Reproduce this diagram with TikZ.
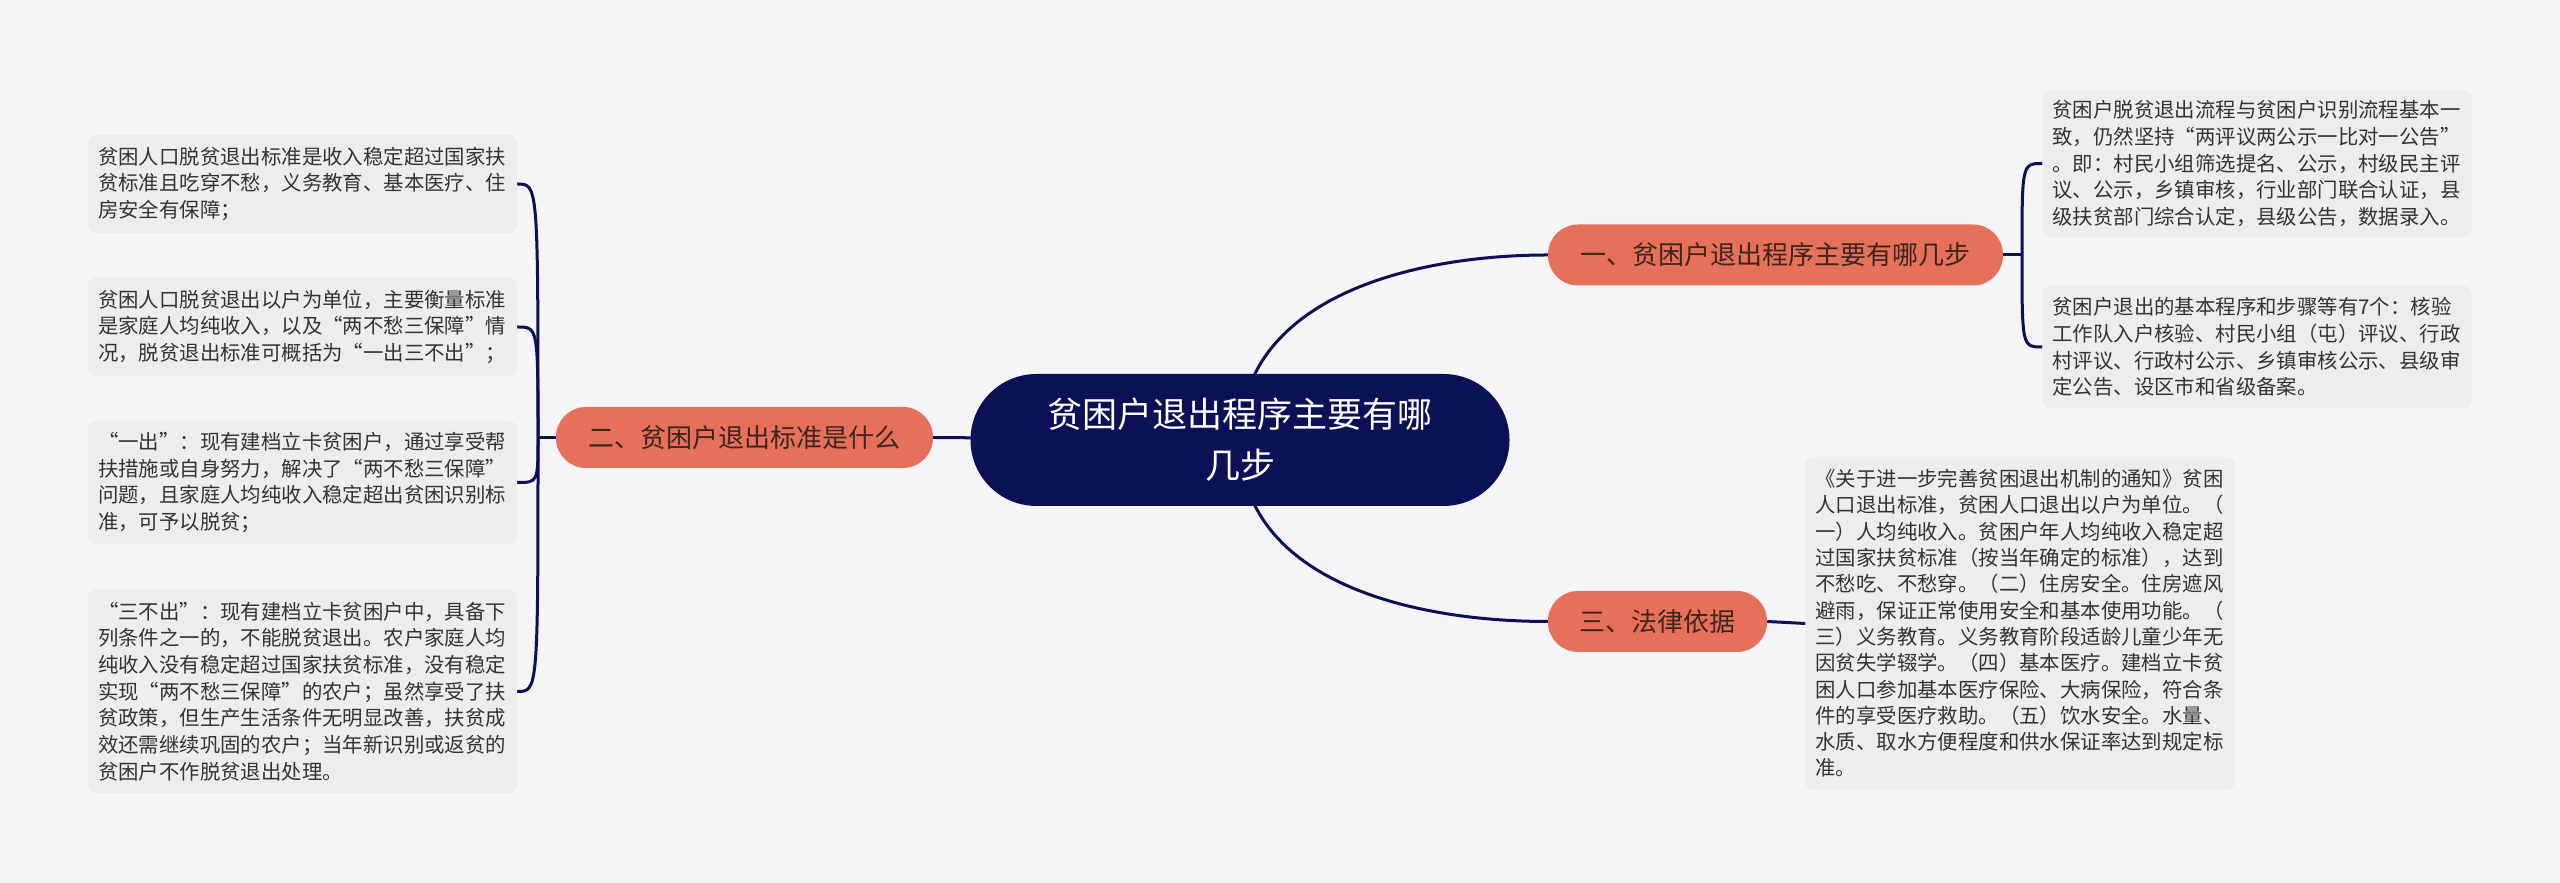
\documentclass[tikz,border=0pt]{standalone}
\usepackage{fontspec}
\newfontfamily\cjk{Noto Sans CJK SC}
\usetikzlibrary{backgrounds}
\definecolor{navy}{HTML}{0B1157}
\definecolor{coral}{HTML}{E6705A}
\definecolor{bgcol}{HTML}{F5F5F7}
\definecolor{leafcol}{HTML}{EDEDEF}
\definecolor{leaftxt}{HTML}{333333}
\definecolor{brtxt}{HTML}{3D2520}
\tikzset{
    root/.style={fill=navy, text=white, rounded corners=66pt, minimum width=539pt, minimum height=132pt, align=center, font=\cjk\fontsize{35}{51}\selectfont},
    branch/.style={fill=coral, text=brtxt, rounded corners=30pt, minimum height=61pt, font=\cjk\fontsize{26}{32}\selectfont},
    leaf/.style={fill=leafcol, text=leaftxt, rounded corners=8pt, text width=409pt, inner xsep=10pt, align=left, font=\cjk\fontsize{20.4}{26.7}\selectfont},
    link/.style={draw=navy, line width=3pt},
}
\begin{document}
\begin{tikzpicture}[x=1pt, y=1pt]
    \useasboundingbox (0,0) rectangle (2560,883);

    % Nodes (Topic and branches)
    \node[root] (root) at (1240, 443) {贫困户退出程序主要有哪\\几步};
    \node[branch, minimum width=455pt] (b1) at (1775.5, 628) {一、贫困户退出程序主要有哪几步};
    \node[branch, minimum width=377pt] (b2) at (744.5, 445.5) {二、贫困户退出标准是什么};
    \node[branch, minimum width=219pt] (b3) at (1657.5, 261.5) {三、法律依据};

    % Nodes (Left leaves)
    \node[leaf, minimum height=98pt] (l1) at (302.5, 699) {贫困人口脱贫退出标准是收入稳定超过国家扶\\贫标准且吃穿不愁，义务教育、基本医疗、住\\房安全有保障；};
    \node[leaf, minimum height=98pt] (l2) at (302.5, 556) {贫困人口脱贫退出以户为单位，主要衡量标准\\是家庭人均纯收入，以及“两不愁三保障”情\\况，脱贫退出标准可概括为“一出三不出”；};
    \node[leaf, minimum height=123pt] (l3) at (302.5, 400.5) {“一出”：现有建档立卡贫困户，通过享受帮\\扶措施或自身努力，解决了“两不愁三保障”\\问题，且家庭人均纯收入稳定超出贫困识别标\\准，可予以脱贫；};
    \node[leaf, minimum height=203pt] (l4) at (302.5, 191.5) {“三不出”：现有建档立卡贫困户中，具备下\\列条件之一的，不能脱贫退出。农户家庭人均\\纯收入没有稳定超过国家扶贫标准，没有稳定\\实现“两不愁三保障”的农户；虽然享受了扶\\贫政策，但生产生活条件无明显改善，扶贫成\\效还需继续巩固的农户；当年新识别或返贫的\\贫困户不作脱贫退出处理。};

    % Nodes (Right leaves)
    \node[leaf, minimum height=147pt] (r1) at (2257, 719.5) {贫困户脱贫退出流程与贫困户识别流程基本一\\致，仍然坚持“两评议两公示一比对一公告”\\。即：村民小组筛选提名、公示，村级民主评\\议、公示，乡镇审核，行业部门联合认证，县\\级扶贫部门综合认定，县级公告，数据录入。};
    \node[leaf, minimum height=122pt] (r2) at (2257, 536) {贫困户退出的基本程序和步骤等有7个：核验\\工作队入户核验、村民小组（屯）评议、行政\\村评议、行政村公示、乡镇审核公示、县级审\\定公告、设区市和省级备案。};
    \node[leaf, minimum height=333pt, font=\cjk\fontsize{20.4}{26.3}\selectfont] (r3) at (2020, 259.5) {《关于进一步完善贫困退出机制的通知》贫困\\人口退出标准，贫困人口退出以户为单位。（\\一）人均纯收入。贫困户年人均纯收入稳定超\\过国家扶贫标准（按当年确定的标准），达到\\不愁吃、不愁穿。（二）住房安全。住房遮风\\避雨，保证正常使用安全和基本使用功能。（\\三）义务教育。义务教育阶段适龄儿童少年无\\因贫失学辍学。（四）基本医疗。建档立卡贫\\困人口参加基本医疗保险、大病保险，符合条\\件的享受医疗救助。（五）饮水安全。水量、\\水质、取水方便程度和供水保证率达到规定标\\准。};

    % Junctions
    \coordinate (j1) at (2022, 628);
    \coordinate (j2) at (538, 445.5);

    \begin{scope}[on background layer]
        \fill[bgcol] (0,0) rectangle (2560,883);

        % Edges (Topic to branches)
        \draw[link] (root.center) to[out=90, in=180] (b1.west);
        \draw[link] (root.center) -- (b2.east);
        \draw[link] (root.center) to[out=-90, in=180] (b3.west);

        % Edges (Branches to leaves)
        \draw[link] (b2.west) -- (j2);
        \draw[link] (j2) .. controls (j2 |- l1.east) .. (l1.east);
        \draw[link] (j2) .. controls (j2 |- l2.east) .. (l2.east);
        \draw[link] (j2) .. controls (j2 |- l3.east) .. (l3.east);
        \draw[link] (j2) .. controls (j2 |- l4.east) .. (l4.east);
        \draw[link] (b1.east) -- (j1);
        \draw[link] (j1) .. controls (j1 |- r1.west) .. (r1.west);
        \draw[link] (j1) .. controls (j1 |- r2.west) .. (r2.west);
        \draw[link] (b3.east) -- (r3.west);
    \end{scope}
\end{tikzpicture}
\end{document}
